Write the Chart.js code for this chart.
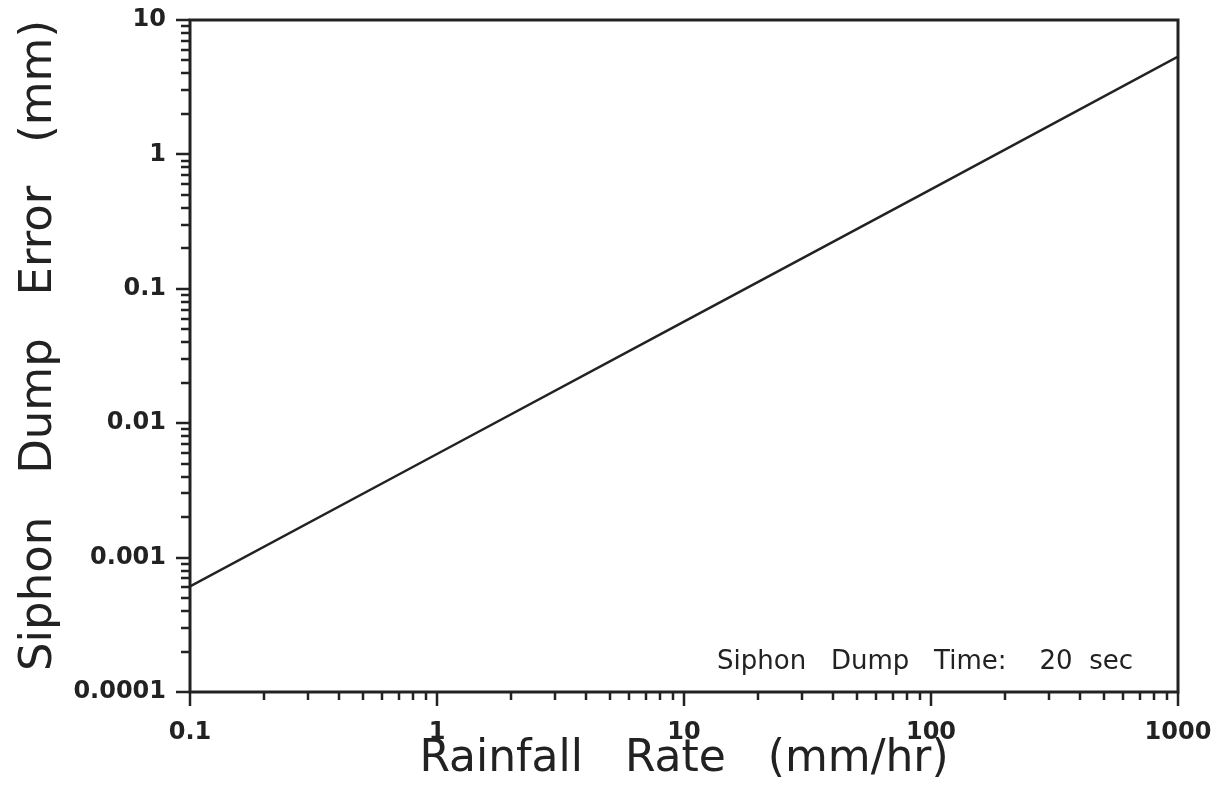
<!DOCTYPE html>
<html>
<head>
<meta charset="utf-8">
<script src="https://cdn.jsdelivr.net/npm/chart.js@4.4.1/dist/chart.umd.min.js"></script>
<style>
  html, body { margin: 0; padding: 0; background: #ffffff; }
  #wrap { width: 1228px; height: 789px; }
</style>
</head>
<body>
<div id="wrap"><canvas id="siphonchart" width="1228" height="789"></canvas></div>
<script>
// data
const rainfallRate = [0.1, 1, 10, 100, 1000];
const dumpError = [0.00061, 0.0059, 0.057, 0.55, 5.35];

const xTicks = [0.1, 1, 10, 100, 1000];
const xTickLabels = ['0.1', '1', '10', '100', '1000'];
const yTicks = [0.0001, 0.001, 0.01, 0.1, 1, 10];
const yTickLabels = ['0.0001', '0.001', '0.01', '0.1', '1', '10'];

const ink = '#222222';
const fontName = "'DejaVu Sans', Verdana, sans-serif";

// frame, log tick marks and the note in the corner
const framePlugin = {
    id: 'frame',
    afterDraw(chart) {
        const c = chart.ctx;
        const a = chart.chartArea;
        const xs = chart.scales.x;
        const ys = chart.scales.y;
        c.save();
        c.strokeStyle = ink;
        c.lineWidth = 3;
        c.strokeRect(a.left, a.top, a.right - a.left, a.bottom - a.top);

        c.lineWidth = 2.5;
        c.beginPath();
        for (let d = -1; d < 3; d++) {
            for (let k = 1; k <= 10; k++) {
                const v = k * Math.pow(10, d);
                const px = Math.round(xs.getPixelForValue(v));
                const len = (k === 1 || k === 10) ? 14 : 8;
                c.moveTo(px, a.bottom);
                c.lineTo(px, a.bottom + len);
            }
        }
        for (let d = -4; d < 1; d++) {
            for (let k = 1; k <= 10; k++) {
                const v = k * Math.pow(10, d);
                const py = Math.round(ys.getPixelForValue(v));
                const len = (k === 1 || k === 10) ? 14 : 9;
                c.moveTo(a.left, py);
                c.lineTo(a.left - len, py);
            }
        }
        c.stroke();

        c.fillStyle = ink;
        c.font = "26px " + fontName;
        c.textAlign = 'right';
        c.textBaseline = 'alphabetic';
        c.fillText('Siphon   Dump   Time:    20  sec', a.right - 45, a.bottom - 23);
        c.restore();
    }
};

// keep the plot box where the scan has it
function noOverflow(scale) {
    scale.paddingTop = 0;
    scale.paddingBottom = 0;
    scale.paddingLeft = 0;
    scale.paddingRight = 0;
}

new Chart(document.getElementById('siphonchart'), {
    type: 'line',
    data: {
        datasets: [
            {
                label: 'Siphon Dump Error',
                data: rainfallRate.map((r, i) => ({ x: r, y: dumpError[i] })),
                borderColor: ink,
                borderWidth: 2.5,
                pointRadius: 0,
                tension: 0,
                fill: false
            }
        ]
    },
    options: {
        responsive: false,
        animation: false,
        layout: {
            padding: { left: 0, top: 20, right: 50, bottom: 0 }
        },
        plugins: {
            legend: { display: false },
            tooltip: { enabled: false }
        },
        scales: {
            x: {
                type: 'logarithmic',
                min: 0.1,
                max: 1000,
                grid: { display: false, drawTicks: false },
                border: { display: false },
                afterBuildTicks: (scale) => {
                    scale.ticks = xTicks.map(v => ({ value: v }));
                },
                afterFit: (scale) => {
                    scale.height = 97;
                    noOverflow(scale);
                },
                ticks: {
                    autoSkip: false,
                    maxRotation: 0,
                    padding: 26,
                    color: ink,
                    font: { family: fontName, size: 24, weight: 'bold' },
                    callback: (v, i) => xTickLabels[i]
                },
                title: {
                    display: true,
                    text: 'Rainfall   Rate   (mm/hr)',
                    color: ink,
                    font: { family: fontName, size: 44, lineHeight: 1.2 },
                    padding: { top: 0, bottom: 3 }
                }
            },
            y: {
                type: 'logarithmic',
                min: 0.0001,
                max: 10,
                grid: { display: false, drawTicks: false },
                border: { display: false },
                afterBuildTicks: (scale) => {
                    scale.ticks = yTicks.map(v => ({ value: v }));
                },
                afterFit: (scale) => {
                    scale.width = 190;
                    noOverflow(scale);
                },
                ticks: {
                    autoSkip: false,
                    padding: 24,
                    color: ink,
                    font: { family: fontName, size: 24, weight: 'bold' },
                    callback: (v, i) => yTickLabels[i]
                },
                title: {
                    display: true,
                    text: 'Siphon   Dump   Error   (mm)',
                    align: 'end',
                    color: ink,
                    font: { family: fontName, size: 45, lineHeight: 1.2 },
                    padding: { top: 12, bottom: 0 }
                }
            }
        }
    },
    plugins: [framePlugin]
});
</script>
</body>
</html>
